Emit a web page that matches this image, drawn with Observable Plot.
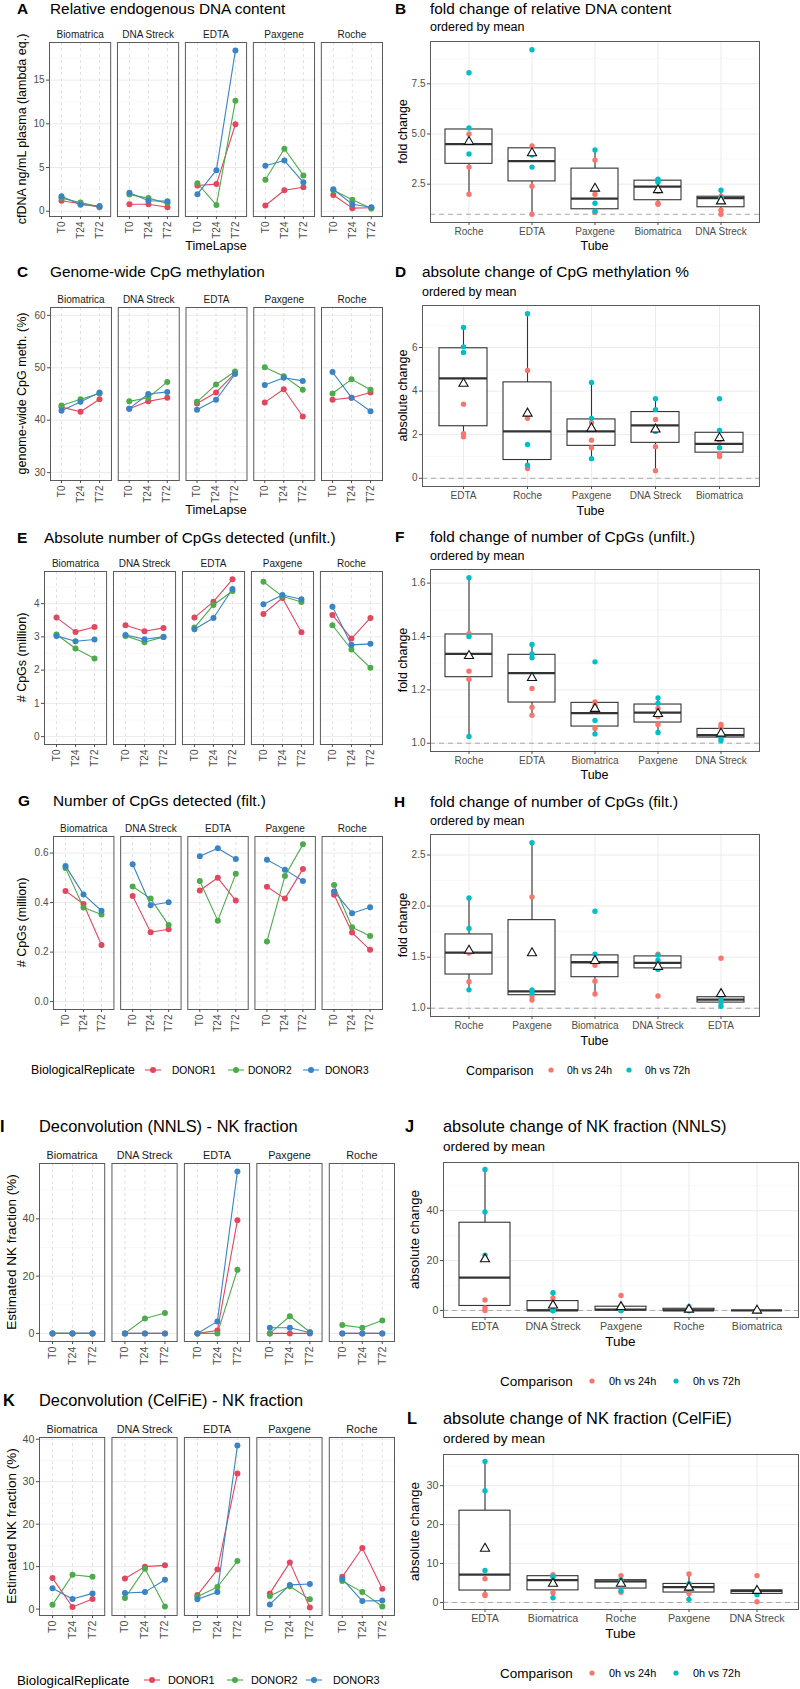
<!DOCTYPE html>
<html><head><meta charset="utf-8">
<script src="https://cdn.jsdelivr.net/npm/d3@7"></script>
<script src="https://cdn.jsdelivr.net/npm/@observablehq/plot@0.6"></script>
<style>
html,body{margin:0;padding:0;background:#fff;}
#fig{position:relative;width:800px;height:1689px;overflow:hidden;background:#fff;}
</style></head><body><div id="fig"></div>
<script>
// ---------------- data ----------------
const tubes = ["Biomatrica","DNA Streck","EDTA","Paxgene","Roche"];
const times = ["T0","T24","T72"];
const donors = ["DONOR1","DONOR2","DONOR3"];
const donorColors = ["#E3475F","#4DAB4C","#3984C4"];
const comparisons = ["0h vs 24h","0h vs 72h"];
const comparisonColors = ["#F8766D","#00BFC4"];

// line panels: 15 values per donor (tube order above, T0,T24,T72 within each tube)
const cfDNA_D1 = [1.2,0.85,0.45, 0.8,0.8,0.45, 2.95,3.1,9.95, 0.65,2.4,2.75, 1.85,0.35,0.4];
const cfDNA_D2 = [1.5,1.0,0.5, 1.9,1.5,0.9, 3.2,0.7,12.65, 3.6,7.15,4.1, 2.4,1.3,0.3];
const cfDNA_D3 = [1.7,0.75,0.6, 2.1,1.2,1.15, 1.95,4.7,18.4, 5.2,5.8,3.3, 2.5,0.8,0.45];

const meth_D1 = [42.5,41.6,44.0, 42.2,43.6,44.3, 43.2,45.3,49.0, 43.4,45.9,40.7, 43.9,44.3,45.3];
const meth_D2 = [42.8,44.0,45.1, 43.6,44.3,47.3, 43.5,46.8,49.3, 50.1,48.4,45.8, 45.1,47.8,45.8];
const meth_D3 = [41.8,43.5,45.3, 42.2,45.0,45.4, 42.0,43.9,48.8, 46.7,48.1,47.5, 49.2,44.3,41.7];

const cpgU_D1 = [3.58,3.15,3.30, 3.35,3.17,3.27, 3.58,4.06,4.73, 3.69,4.17,3.14, 3.66,2.95,3.57];
const cpgU_D2 = [3.07,2.65,2.35, 3.03,2.84,3.00, 3.28,3.96,4.38, 4.66,4.22,4.05, 3.35,2.62,2.07];
const cpgU_D3 = [3.03,2.87,2.92, 3.06,2.93,3.00, 3.23,3.57,4.44, 3.98,4.26,4.13, 3.91,2.76,2.79];

const cpgF_D1 = [0.447,0.394,0.229, 0.427,0.280,0.292, 0.449,0.500,0.408, 0.464,0.416,0.536, 0.432,0.279,0.209];
const cpgF_D2 = [0.540,0.380,0.352, 0.465,0.416,0.309, 0.487,0.327,0.516, 0.243,0.507,0.635, 0.471,0.300,0.265];
const cpgF_D3 = [0.548,0.433,0.367, 0.555,0.389,0.401, 0.587,0.619,0.576, 0.573,0.533,0.487, 0.445,0.357,0.381];

const nnls_D1 = [0,0,0, 0,0,0, 0,1.0,39.5, 0,0,0, 0,0,0];
const nnls_D2 = [0,0,0, 0,5.2,7.1, 0,0,22.2, 0,6.0,0.5, 2.9,2.0,4.5];
const nnls_D3 = [0,0,0, 0,0,0, 0,4.2,56.5, 2.0,2.0,0.2, 0,0,0];

const celfie_D1 = [7.3,0.5,2.4, 7.2,10.0,10.3, 3.3,9.3,31.9, 3.7,11.0,0.4, 7.6,14.4,4.8];
const celfie_D2 = [1.0,8.1,7.6, 2.6,9.5,0.6, 2.9,5.2,11.3, 3.1,5.4,2.3, 6.6,4.0,0.6];
const celfie_D3 = [4.9,2.4,3.7, 3.8,4.0,6.9, 2.3,4.0,38.5, 1.1,5.7,5.9, 7.1,1.9,2.0];

// box panels: per tube (tube order above), three values per comparison
const fcDNA_24h = [[1.5,1.55,2.15],[1.9,1.2,1.0],[4.4,2.4,1.0],[3.7,2.0,1.1],[5.0,3.35,2.0]];
const fcDNA_72h = [[2.6,2.7,2.75],[2.2,1.8,1.8],[9.2,3.35,3.95],[4.2,1.55,1.15],[8.05,5.3,4.0]];
const fcDNA_order = ["Roche","EDTA","Paxgene","Biomatrica","DNA Streck"];

const dMeth_24h = [[1.75,1.1,1.0],[2.7,1.45,0.35],[3.4,2.05,1.9],[2.55,1.75,1.4],[4.95,2.75,0.45]];
const dMeth_72h = [[3.65,2.2,1.4],[3.65,3.15,2.15],[6.92,6.03,5.77],[4.4,2.75,0.9],[7.55,1.55,0.6]];
const dMeth_order = ["EDTA","Roche","Paxgene","DNA Streck","Biomatrica"];

const fcCpgU_24h = [[1.155,1.14,1.055],[1.07,1.06,1.035],[1.205,1.135,1.105],[1.13,1.10,1.07],[1.41,1.27,1.24]];
const fcCpgU_72h = [[1.305,1.085,1.035],[1.025,1.02,1.01],[1.37,1.335,1.32],[1.17,1.15,1.04],[1.62,1.40,1.025]];
const fcCpgU_order = ["Roche","EDTA","Biomatrica","Paxgene","DNA Streck"];

const fcCpgF_24h = [[1.42,1.265,1.14],[1.53,1.42,1.12],[1.49,1.10,1.05],[2.09,1.12,1.08],[1.55,1.54,1.26]];
const fcCpgF_72h = [[1.95,1.53,1.48],[1.52,1.47,1.38],[1.11,1.07,1.02],[2.62,1.18,1.15],[2.08,1.78,1.18]];
const fcCpgF_order = ["Roche","Paxgene","Biomatrica","DNA Streck","EDTA"];

const dNnls_24h = [[0,0,0],[0,5.0,0],[1.0,0,4.2],[0,6.0,0.1],[0,0.9,0]];
const dNnls_72h = [[0,0,0],[0,7.1,0],[39.5,22.2,56.5],[0,0.6,1.8],[0,1.5,0]];
const dNnls_order = ["EDTA","DNA Streck","Paxgene","Roche","Biomatrica"];

const dCelfie_24h = [[6.8,7.1,2.5],[2.8,6.9,0.2],[6.1,2.05,1.8],[7.3,2.3,4.6],[6.9,2.6,5.3]];
const dCelfie_72h = [[4.9,6.6,1.2],[3.1,2.0,3.1],[28.7,8.2,36.2],[3.3,0.8,4.8],[3.0,5.8,5.5]];
const dCelfie_order = ["EDTA","Biomatrica","Roche","Paxgene","DNA Streck"];

// ---------------- helpers ----------------
const FONT = '"Liberation Sans", Arial, Helvetica, sans-serif';
const fig = document.getElementById("fig");
function place(el, x, y){ el.style.position="absolute"; el.style.left=x+"px"; el.style.top=y+"px"; el.style.overflow="visible"; fig.appendChild(el); }
function expand(lo, hi){ const d = hi - lo; return [lo - 0.05*d, hi + 0.05*d]; }
function longData(series){
  const out = [];
  series.forEach(([donor, arr]) => tubes.forEach((tube, t) => times.forEach((time, k) =>
    out.push({tube, time, donor, value: arr[t*3+k]}))));
  return out;
}
function boxData(v24, v72){
  const out = [];
  tubes.forEach((tube, t) => {
    v24[t].forEach(v => out.push({tube, comparison: comparisons[0], value: v}));
    v72[t].forEach(v => out.push({tube, comparison: comparisons[1], value: v}));
  });
  return out;
}
const q1 = v => d3.quantile(v, 0.25);
const q3 = v => d3.quantile(v, 0.75);
const whLo = v => { const a=q1(v), b=q3(v), f=a-1.5*(b-a); return d3.min(Array.from(v).filter(x => x >= f - 1e-9)); };
const whHi = v => { const a=q1(v), b=q3(v), f=b+1.5*(b-a); return d3.max(Array.from(v).filter(x => x <= f + 1e-9)); };

function facetPanel({y0, y1, frame, data, yDomain, yTicks, yMinor, fmt, fs}){
  const x0 = 0, w = 400;
  const svg = Plot.plot({
    width: w, height: y1 - y0,
    marginLeft: frame[0]-x0, marginRight: x0+w-frame[1], marginTop: frame[2]-y0, marginBottom: y1-frame[3],
    style: {fontFamily: FONT, fontSize: fs.tick+"px", color: "#4D4D4D", background: "transparent", overflow: "visible"},
    fx: {domain: tubes, paddingInner: 0.1, paddingOuter: 0, round: false},
    x: {type: "point", domain: times, padding: 0.6},
    y: {domain: yDomain},
    color: {domain: donors, range: donorColors},
    marks: [
      Plot.gridY({ticks: yMinor, stroke: "#F3F3F3", strokeOpacity: 1, strokeWidth: 0.6}),
      Plot.gridY({ticks: yTicks, stroke: "#EBEBEB", strokeOpacity: 1, strokeWidth: 1}),
      Plot.gridX({stroke: "#DADADA", strokeOpacity: 1, strokeWidth: 0.8, strokeDasharray: "3,3"}),
      Plot.frame({stroke: "#5A5A5A", strokeWidth: 1}),
      Plot.axisFx({anchor: "top", tickSize: 0, tickPadding: 5, label: null, fontSize: fs.strip, color: "#1A1A1A"}),
      Plot.axisX({tickRotate: -90, tickSize: 3, tickPadding: 2, label: null, fontSize: fs.tick, color: "#4D4D4D"}),
      Plot.axisY({ticks: yTicks, tickFormat: fmt, tickSize: 3, tickPadding: 2, label: null, fontSize: fs.tick, color: "#4D4D4D"}),
      Plot.line(data, {fx: "tube", x: "time", y: "value", stroke: "donor", strokeWidth: 1.1}),
      Plot.dot(data, {fx: "tube", x: "time", y: "value", fill: "donor", r: 3})
    ]
  });
  place(svg, x0, y0);
}

function boxPanel({y0, y1, frame, data, order, ref, yTicks, yMinor, fmt, fs}){
  const x0 = 400, w = 400;
  const ext = d3.extent(data.map(d => d.value).concat([ref]));
  const svg = Plot.plot({
    width: w, height: y1 - y0,
    marginLeft: frame[0]-x0, marginRight: x0+w-frame[1], marginTop: frame[2]-y0, marginBottom: y1-frame[3],
    style: {fontFamily: FONT, fontSize: fs.tick+"px", color: "#4D4D4D", background: "transparent", overflow: "visible"},
    x: {domain: order, paddingInner: 0.25, paddingOuter: 0.225},
    y: {domain: expand(ext[0], ext[1])},
    color: {domain: comparisons, range: comparisonColors},
    marks: [
      Plot.gridY({ticks: yMinor, stroke: "#F3F3F3", strokeOpacity: 1, strokeWidth: 0.6}),
      Plot.gridY({ticks: yTicks, stroke: "#EBEBEB", strokeOpacity: 1, strokeWidth: 1}),
      Plot.gridX({stroke: "#EBEBEB", strokeOpacity: 1, strokeWidth: 1}),
      Plot.ruleY([ref], {stroke: "#AAAAAA", strokeWidth: 1, strokeDasharray: "5,4"}),
      Plot.ruleX(data, Plot.groupX({y1: whLo, y2: whHi}, {x: "tube", y: "value", stroke: "#333333", strokeWidth: 1.1})),
      Plot.barY(data, Plot.groupX({y1: q1, y2: q3}, {x: "tube", y: "value", fill: "white", stroke: "#333333", strokeWidth: 1.1})),
      Plot.tickY(data, Plot.groupX({y: "median"}, {x: "tube", y: "value", stroke: "#333333", strokeWidth: 2.3})),
      Plot.dot(data, {x: "tube", y: "value", fill: "comparison", r: 2.7}),
      Plot.dot(data, Plot.groupX({y: "mean"}, {x: "tube", y: "value", symbol: "triangle", fill: "white", stroke: "#111111", strokeWidth: 1.1, r: 3.4})),
      Plot.frame({stroke: "#5A5A5A", strokeWidth: 1}),
      Plot.axisX({tickSize: 3, tickPadding: 2, label: null, fontSize: fs.tick, color: "#4D4D4D"}),
      Plot.axisY({ticks: yTicks, tickFormat: fmt, tickSize: 3, tickPadding: 2, label: null, fontSize: fs.tick, color: "#4D4D4D"})
    ]
  });
  place(svg, x0, y0);
}

const fsTop = {tick: 10, strip: 10};
const fsBot = {tick: 10.7, strip: 10.8};
const f0 = d3.format("d"), f1 = d3.format(".1f");

// ---------------- left column (facets) ----------------
const A_data = longData([["DONOR1", cfDNA_D1],["DONOR2", cfDNA_D2],["DONOR3", cfDNA_D3]]);
facetPanel({y0: 20, y1: 242, frame: [49, 382, 42, 216], data: A_data,
  yDomain: expand(...d3.extent(A_data, d => d.value)), yTicks: [0,5,10,15], yMinor: [2.5,7.5,12.5,17.5], fmt: f0, fs: fsTop});

const C_data = longData([["DONOR1", meth_D1],["DONOR2", meth_D2],["DONOR3", meth_D3]]);
facetPanel({y0: 285, y1: 507, frame: [50, 382, 307, 480], data: C_data,
  yDomain: expand(30, 60), yTicks: [30,40,50,60], yMinor: [35,45,55], fmt: f0, fs: fsTop});

const E_data = longData([["DONOR1", cpgU_D1],["DONOR2", cpgU_D2],["DONOR3", cpgU_D3]]);
facetPanel({y0: 549, y1: 771, frame: [44, 382, 571, 744], data: E_data,
  yDomain: expand(0, d3.max(E_data, d => d.value)), yTicks: [0,1,2,3,4], yMinor: [0.5,1.5,2.5,3.5,4.5], fmt: f0, fs: fsTop});

const G_data = longData([["DONOR1", cpgF_D1],["DONOR2", cpgF_D2],["DONOR3", cpgF_D3]]);
facetPanel({y0: 814, y1: 1036, frame: [53, 382, 836, 1009], data: G_data,
  yDomain: expand(0, d3.max(G_data, d => d.value)), yTicks: [0,0.2,0.4,0.6], yMinor: [0.1,0.3,0.5], fmt: f1, fs: fsTop});

const I_data = longData([["DONOR1", nnls_D1],["DONOR2", nnls_D2],["DONOR3", nnls_D3]]);
facetPanel({y0: 1140, y1: 1370, frame: [39, 394, 1163, 1341], data: I_data,
  yDomain: expand(...d3.extent(I_data, d => d.value)), yTicks: [0,20,40], yMinor: [10,30,50], fmt: f0, fs: fsBot});

const K_data = longData([["DONOR1", celfie_D1],["DONOR2", celfie_D2],["DONOR3", celfie_D3]]);
facetPanel({y0: 1414, y1: 1644, frame: [39, 394, 1437, 1615], data: K_data,
  yDomain: expand(...d3.extent(K_data, d => d.value)), yTicks: [0,10,20,30,40], yMinor: [5,15,25,35], fmt: f0, fs: fsBot});

// ---------------- right column (boxplots) ----------------
boxPanel({y0: 38, y1: 240, frame: [430, 759, 41, 222], data: boxData(fcDNA_24h, fcDNA_72h), order: fcDNA_order, ref: 1,
  yTicks: [2.5,5,7.5], yMinor: [1.25,3.75,6.25,8.75], fmt: f1, fs: fsTop});
boxPanel({y0: 300, y1: 503, frame: [422, 759, 305, 486], data: boxData(dMeth_24h, dMeth_72h), order: dMeth_order, ref: 0,
  yTicks: [0,2,4,6], yMinor: [1,3,5,7], fmt: f0, fs: fsTop});
boxPanel({y0: 564, y1: 769, frame: [430, 759, 569, 751], data: boxData(fcCpgU_24h, fcCpgU_72h), order: fcCpgU_order, ref: 1,
  yTicks: [1.0,1.2,1.4,1.6], yMinor: [1.1,1.3,1.5], fmt: f1, fs: fsTop});
boxPanel({y0: 829, y1: 1034, frame: [430, 759, 834, 1016], data: boxData(fcCpgF_24h, fcCpgF_72h), order: fcCpgF_order, ref: 1,
  yTicks: [1.0,1.5,2.0,2.5], yMinor: [1.25,1.75,2.25], fmt: f1, fs: fsTop});
boxPanel({y0: 1157, y1: 1337, frame: [443, 798, 1162, 1317], data: boxData(dNnls_24h, dNnls_72h), order: dNnls_order, ref: 0,
  yTicks: [0,20,40], yMinor: [10,30,50], fmt: f0, fs: fsBot});
boxPanel({y0: 1449, y1: 1629, frame: [443, 798, 1454, 1609], data: boxData(dCelfie_24h, dCelfie_72h), order: dCelfie_order, ref: 0,
  yTicks: [0,10,20,30], yMinor: [5,15,25,35], fmt: f0, fs: fsBot});

// ---------------- text overlay & legends ----------------
const ov = d3.create("svg").attr("width", 800).attr("height", 1689)
  .style("position","absolute").style("left","0px").style("top","0px").style("pointer-events","none")
  .style("font-family", FONT);
function txt(x, y, s, size, opt = {}){
  const t = ov.append("text").attr("x", x).attr("y", y).text(s)
    .attr("font-size", size).attr("fill", opt.fill || "#000")
    .attr("text-anchor", opt.anchor || "start");
  if (opt.bold) t.attr("font-weight", "bold");
  return t;
}
function vtxt(cx, cy, s, size){
  ov.append("text").attr("transform", `translate(${cx},${cy}) rotate(-90)`).attr("dy", "0.35em")
    .attr("text-anchor", "middle").attr("font-size", size).attr("fill", "#000").text(s);
}
// tags
[["A",17,14,15.4],["B",395,14,15.4],["C",17,277,15.4],["D",395,277,15.4],["E",17,543,15.4],["F",395,542,15.4],
 ["G",18,806,15.4],["H",394,807,15.4],["I",0,1132,16.4],["J",405,1132,16.4],["K",3,1406,16.4],["L",407,1424,16.4]]
 .forEach(([s,x,y,f]) => txt(x, y, s, f, {bold: true}));
// titles
txt(50, 14, "Relative endogenous DNA content", 15.4);
txt(430, 14, "fold change of relative DNA content", 15.4);
txt(50, 277, "Genome-wide CpG methylation", 15.4);
txt(422, 277, "absolute change of CpG methylation %", 15.4);
txt(44, 543, "Absolute number of CpGs detected (unfilt.)", 15.4);
txt(430, 542, "fold change of number of CpGs (unfilt.)", 15.4);
txt(53, 806, "Number of CpGs detected (filt.)", 15.4);
txt(430, 807, "fold change of number of CpGs (filt.)", 15.4);
txt(39, 1132, "Deconvolution (NNLS) - NK fraction", 16.4);
txt(443, 1132, "absolute change of NK fraction (NNLS)", 16.4);
txt(39, 1406, "Deconvolution (CelFiE) - NK fraction", 16.4);
txt(443, 1424, "absolute change of NK fraction (CelFiE)", 16.4);
// subtitles
[[430,31,12.5],[422,296,12.5],[430,560,12.5],[430,825,12.5],[443,1151,13.5],[443,1443,13.5]]
  .forEach(([x,y,f]) => txt(x, y, "ordered by mean", f));
// x axis titles
txt(216, 250, "TimeLapse", 12.5, {anchor: "middle"});
txt(216, 514, "TimeLapse", 12.5, {anchor: "middle"});
[[594.5,250,12.5],[590.5,515,12.5],[594.5,779,12.5],[594.5,1045,12.5],[620.5,1346,13.5],[620.5,1638,13.5]]
  .forEach(([x,y,f]) => txt(x, y, "Tube", f, {anchor: "middle"}));
// y axis titles
vtxt(22, 129, "cfDNA ng/mL plasma (lambda eq.)", 12.5);
vtxt(22, 393.5, "genome-wide CpG meth. (%)", 12.5);
vtxt(22, 657.5, "# CpGs (million)", 12.5);
vtxt(22, 922.5, "# CpGs (million)", 12.5);
vtxt(11, 1252, "Estimated NK fraction (%)", 13.5);
vtxt(11, 1526, "Estimated NK fraction (%)", 13.5);
vtxt(403, 131.5, "fold change", 12.5);
vtxt(403, 395.5, "absolute change", 12.5);
vtxt(403, 660, "fold change", 12.5);
vtxt(403, 925, "fold change", 12.5);
vtxt(414, 1239.5, "absolute change", 13.5);
vtxt(414, 1531.5, "absolute change", 13.5);

// donor legends
function donorLegend(y, xTitle, keys, texts, fT, fL){
  txt(xTitle, y + fT*0.36, "BiologicalReplicate", fT);
  donors.forEach((d, i) => {
    ov.append("line").attr("x1", keys[i]-8).attr("x2", keys[i]+8).attr("y1", y).attr("y2", y)
      .attr("stroke", donorColors[i]).attr("stroke-width", 1.1);
    ov.append("circle").attr("cx", keys[i]).attr("cy", y).attr("r", 3).attr("fill", donorColors[i]);
    txt(texts[i], y + fL*0.36, d, fL);
  });
}
donorLegend(1070, 31, [153, 236, 311], [172, 248, 325], 12.3, 10.2);
donorLegend(1680, 17, [152, 235, 314], [168, 251, 333], 13.3, 10.9);

function compLegend(y, xTitle, keys, texts, fT, fL){
  txt(xTitle, y + fT*0.36, "Comparison", fT);
  comparisons.forEach((c, i) => {
    ov.append("circle").attr("cx", keys[i]).attr("cy", y).attr("r", 2.6).attr("fill", comparisonColors[i]);
    txt(texts[i], y + fL*0.36, c, fL);
  });
}
compLegend(1070, 466, [551, 629], [567, 645], 12.5, 10.4);
compLegend(1381, 500, [592, 676], [609, 693], 13.5, 10.9);
compLegend(1673, 500, [592, 676], [609, 693], 13.5, 10.9);

fig.appendChild(ov.node());
</script></body></html>
